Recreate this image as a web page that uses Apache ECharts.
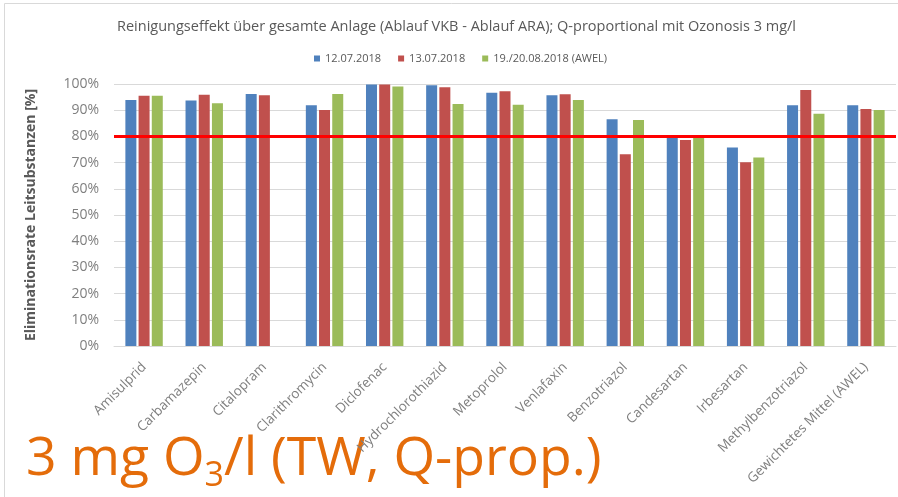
<!DOCTYPE html>
<html>
<head>
<meta charset="utf-8">
<title>Reinigungseffekt</title>
<script src="https://cdn.jsdelivr.net/npm/echarts@6/dist/echarts.min.js"></script>
<style>
  html, body { margin: 0; padding: 0; background: #fff; }
  #main { width: 898px; height: 497px; }
</style>
</head>
<body>
<div id="main"></div>
<script>
// Kategorien (Leitsubstanzen)
const categories = ['Amisulprid', 'Carbamazepin', 'Citalopram', 'Clarithromycin', 'Diclofenac',
  'Hydrochlorothiazid', 'Metoprolol', 'Venlafaxin', 'Benzotriazol', 'Candesartan',
  'Irbesartan', 'Methylbenzotriazol', 'Gewichtetes Mittel (AWEL)']

// Eliminationsraten in %
const seriesNames = ['12.07.2018', '13.07.2018', '19./20.08.2018 (AWEL)']
const values1207 = [93.9, 93.7, 96.2, 91.9, 99.8, 99.5, 96.7, 95.7, 86.5, 80.2, 75.8, 91.9, 91.9]
const values1307 = [95.5, 95.9, 95.7, 90.1, 99.8, 98.8, 97.2, 96.1, 73.2, 78.6, 70.1, 97.7, 90.5]
const valuesAwel = [95.5, 92.7, null, 96.2, 99.0, 92.4, 92.1, 93.9, 86.3, 79.5, 71.9, 88.6, 90.1]

// Zielwert 80 %
const targetValue = 80
const yTicks = [0, 10, 20, 30, 40, 50, 60, 70, 80, 90, 100]

const colors = ['#4f81bd', '#c0504d', '#9bbb59']
const font = 'Open Sans'

const myChart = echarts.init(document.getElementById('main'))

function barSeries (name, data) {
  return {
    name: name,
    type: 'bar',
    barWidth: 11,
    barGap: '20%',
    data: data
  }
}

const series = [
  barSeries(seriesNames[0], values1207),
  barSeries(seriesNames[1], values1307),
  barSeries(seriesNames[2], valuesAwel)
]
// rote Linie bei 80 %
series[0].markLine = {
  silent: true,
  symbol: 'none',
  label: { show: false },
  lineStyle: { color: '#ff0000', width: 3, type: 'solid' },
  data: [{ yAxis: targetValue }]
}

const option = {
  animation: false,
  color: colors,
  textStyle: { fontFamily: font },
  title: {
    text: 'Reinigungseffekt über gesamte Anlage (Ablauf VKB - Ablauf ARA); Q-proportional mit Ozonosis 3 mg/l',
    left: 112,
    top: 14,
    textStyle: { fontSize: 14.5, fontWeight: 'normal', color: '#595959', fontFamily: font }
  },
  legend: {
    left: 309,
    top: 48,
    icon: 'rect',
    itemWidth: 6,
    itemHeight: 6,
    itemGap: 17,
    textStyle: { fontSize: 11, color: '#595959', fontFamily: font },
    data: seriesNames
  },
  grid: {
    left: 114,
    right: 2,
    top: 84,
    bottom: 151
  },
  xAxis: {
    type: 'category',
    data: categories,
    axisLine: { lineStyle: { color: '#d9d9d9' } },
    axisTick: { show: false },
    axisLabel: {
      rotate: 45,
      interval: 0,
      margin: 19,
      fontSize: 13.5,
      color: '#7f7f7f',
      fontFamily: font
    }
  },
  yAxis: {
    type: 'value',
    min: yTicks[0],
    max: yTicks[yTicks.length - 1],
    interval: 10,
    name: 'Eliminationsrate Leitsubstanzen [%]',
    nameLocation: 'middle',
    nameGap: 76,
    nameTextStyle: { fontSize: 14, fontWeight: 'bold', color: '#595959', fontFamily: font },
    axisLine: { show: false },
    axisTick: { show: false },
    splitLine: { lineStyle: { color: '#d9d9d9' } },
    axisLabel: {
      formatter: '{value}%',
      fontSize: 14,
      margin: 15,
      color: '#7f7f7f',
      fontFamily: font
    }
  },
  series: series,
  graphic: [
    {
      // Rahmen
      type: 'rect',
      shape: { x: 4.5, y: 3.5, width: 900, height: 500 },
      style: { fill: 'none', stroke: '#d9d9d9', lineWidth: 1 },
      silent: true
    },
    {
      // grosse Beschriftung unten, O3 mit tiefgestellter 3
      type: 'text',
      left: 26,
      top: 433,
      style: {
        text: '{a|3 mg O}{s|3}{a|/l (TW, Q-prop.)}',
        fill: '#e46c0a',
        fontFamily: font,
        rich: {
          a: { fontSize: 53.5, lineHeight: 60, verticalAlign: 'top', fill: '#e46c0a', fontFamily: font },
          s: { fontSize: 34, lineHeight: 40, verticalAlign: 'top', padding: [26, 0, 0, 0], fill: '#e46c0a', fontFamily: font }
        }
      }
    }
  ]
}

myChart.setOption(option)
</script>
</body>
</html>
